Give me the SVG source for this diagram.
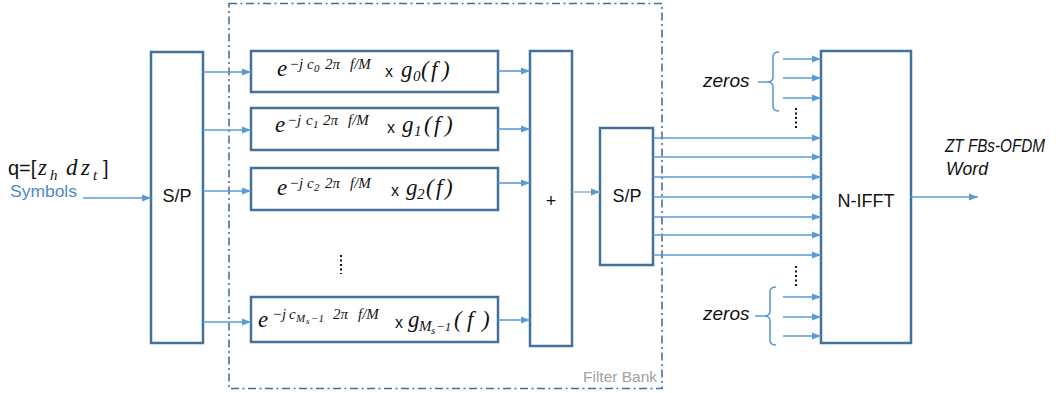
<svg xmlns="http://www.w3.org/2000/svg" width="1060" height="393" viewBox="0 0 1060 393">
<defs>
<marker id="ah" markerUnits="userSpaceOnUse" markerWidth="9" markerHeight="8" refX="9" refY="4" orient="auto">
<path d="M0,0.5 L9,4 L0,7.5 z" fill="#5B9BD5"/>
</marker>
<style>
.box{fill:#fff;stroke:#41719C;stroke-width:2.5}
.ar{stroke:#5B9BD5;stroke-width:1.6;fill:none;marker-end:url(#ah)}
.br{stroke:#5B9BD5;stroke-width:1.6;fill:none}
.m{font-family:"Liberation Serif",serif;font-style:italic;font-size:23px;fill:#111}
.sup{font-family:"Liberation Serif",serif;font-style:italic;font-size:15px;fill:#111}
.sb{font-size:11px}
.sb2{font-size:15px}
.s{font-family:"Liberation Sans",sans-serif;fill:#111}
.z{font-family:"Liberation Sans",sans-serif;font-style:italic;font-size:19px;fill:#111}
.dots{stroke:#111;stroke-width:2;stroke-dasharray:2 2.5}
</style>
</defs>
<rect x="0" y="0" width="1060" height="393" fill="#fff"/>
<g id="filterbank">
<rect x="229" y="3.5" width="433" height="385" fill="none" stroke="#41719C" stroke-width="1.6" stroke-dasharray="8 3.5 2 3.5"/>
<text x="583" y="382" font-family="Liberation Sans,sans-serif" font-size="15" fill="#A0A0A0" textLength="74" lengthAdjust="spacingAndGlyphs">Filter Bank</text>
</g>
<g id="input">
<text y="175" class="s" font-size="20"><tspan x="8">q=[</tspan><tspan x="38" class="m">z</tspan><tspan x="50" dy="5" class="sup">h</tspan><tspan x="66" dy="-5" class="m">d</tspan><tspan x="81" class="m">z</tspan><tspan x="93" dy="5" class="sup">t</tspan><tspan x="103" dy="-5">]</tspan></text>
<text x="10" y="197" font-family="Liberation Sans,sans-serif" font-size="16" fill="#4F8ACB" textLength="67" lengthAdjust="spacingAndGlyphs">Symbols</text>
</g>
<g id="sp1">
<rect class="box" x="151" y="52" width="52" height="291"/>
<text x="177" y="202" class="s" font-size="18" text-anchor="middle">S/P</text>
</g>
<g id="filter0">
<rect class="box" x="251" y="51" width="247" height="41"/>
<text x="277" y="76" class="m">e</text>
<text y="69" class="sup"><tspan x="289">−j</tspan><tspan x="307">c</tspan><tspan x="314" dy="3" class="sb">0</tspan><tspan x="325" dy="-3">2π</tspan><tspan x="350">f/M</tspan></text>
<text x="385" y="77" class="s" font-size="16">x</text>
<text y="77" class="m"><tspan x="401">g</tspan><tspan x="413" dy="4" class="sb2">0</tspan><tspan x="421" dy="-4">(</tspan><tspan x="431">f</tspan><tspan x="442">)</tspan></text>
</g>
<g id="filter1">
<rect class="box" x="251" y="108" width="247" height="42"/>
<text x="275" y="132" class="m">e</text>
<text y="125" class="sup"><tspan x="287">−j</tspan><tspan x="306">c</tspan><tspan x="313" dy="3" class="sb">1</tspan><tspan x="323" dy="-3">2π</tspan><tspan x="348">f/M</tspan></text>
<text x="387" y="133" class="s" font-size="16">x</text>
<text y="132" class="m"><tspan x="402">g</tspan><tspan x="414" dy="4" class="sb2">1</tspan><tspan x="424" dy="-4">(</tspan><tspan x="434">f</tspan><tspan x="445">)</tspan></text>
</g>
<g id="filter2">
<rect class="box" x="251" y="168" width="247" height="42"/>
<text x="277" y="195" class="m">e</text>
<text y="188" class="sup"><tspan x="289">−j</tspan><tspan x="307">c</tspan><tspan x="314" dy="3" class="sb">2</tspan><tspan x="325" dy="-3">2π</tspan><tspan x="350">f/M</tspan></text>
<text x="391" y="196" class="s" font-size="16">x</text>
<text y="195" class="m"><tspan x="406">g</tspan><tspan x="417" dy="4" class="sb2">2</tspan><tspan x="426" dy="-4">(</tspan><tspan x="436">f</tspan><tspan x="445">)</tspan></text>
</g>
<g id="filterM">
<rect class="box" x="251" y="297" width="247" height="45"/>
<text x="258" y="327" class="m">e</text>
<text y="319" class="sup"><tspan x="272">−j</tspan><tspan x="289">c</tspan><tspan x="296" dy="3" class="sb">M</tspan><tspan x="306" dy="2" font-size="9">s</tspan><tspan x="311" dy="-2" class="sb">−1</tspan><tspan x="333" dy="-3">2π</tspan><tspan x="358">f/M</tspan></text>
<text x="395" y="328" class="s" font-size="16">x</text>
<text y="327" class="m"><tspan x="408">g</tspan><tspan x="419" dy="4" class="sb2">M</tspan><tspan x="431" dy="3" font-size="11">s</tspan><tspan x="436" dy="-3" font-size="13">−1</tspan><tspan x="454" dy="-4">(</tspan><tspan x="467">f</tspan><tspan x="482">)</tspan></text>
</g>
<g id="sum">
<rect class="box" x="530" y="51" width="42" height="295"/>
<text x="551" y="207" class="s" font-size="18" text-anchor="middle">+</text>
</g>
<g id="sp2">
<rect class="box" x="600" y="128" width="53" height="137"/>
<text x="627" y="202" class="s" font-size="18" text-anchor="middle">S/P</text>
</g>
<g id="ifft">
<rect class="box" x="821" y="51" width="90" height="292"/>
<text x="866" y="207" class="s" font-size="18" text-anchor="middle">N-IFFT</text>
</g>
<g id="labels">
<text x="703" y="87" class="z">zeros</text>
<text x="703" y="320" class="z">zeros</text>
<text x="945" y="152" class="z" font-size="14" textLength="100" lengthAdjust="spacingAndGlyphs">ZT FBs-OFDM</text>
<text x="946" y="175" class="z" font-size="16" textLength="42" lengthAdjust="spacingAndGlyphs">Word</text>
<line class="dots" x1="341" y1="255" x2="341" y2="274"/>
<line class="dots" x1="796" y1="108" x2="796" y2="128"/>
<line class="dots" x1="796" y1="266" x2="796" y2="286"/>
</g>
<g id="connectors">
<line class="ar" x1="83" y1="198" x2="151" y2="198"/>
<line class="ar" x1="203" y1="72" x2="251" y2="72"/>
<line class="ar" x1="203" y1="130" x2="251" y2="130"/>
<line class="ar" x1="203" y1="191" x2="251" y2="191"/>
<line class="ar" x1="203" y1="322" x2="251" y2="322"/>
<line class="ar" x1="498" y1="71" x2="530" y2="71" stroke-width="1"/>
<line class="ar" x1="498" y1="129" x2="530" y2="129"/>
<line class="ar" x1="498" y1="183" x2="530" y2="183"/>
<line class="ar" x1="498" y1="320" x2="530" y2="320"/>
<line class="ar" x1="572" y1="192" x2="600" y2="192" style="stroke:#A6B4C4"/>
<line class="ar" x1="653" y1="138" x2="821" y2="138"/>
<line class="ar" x1="653" y1="157" x2="821" y2="157"/>
<line class="ar" x1="653" y1="177" x2="821" y2="177"/>
<line class="ar" x1="653" y1="197" x2="821" y2="197"/>
<line class="ar" x1="653" y1="217" x2="821" y2="217"/>
<line class="ar" x1="653" y1="235" x2="821" y2="235"/>
<line class="ar" x1="653" y1="255" x2="821" y2="255"/>
<line class="ar" x1="783" y1="59" x2="821" y2="59"/>
<line class="ar" x1="783" y1="78" x2="821" y2="78"/>
<line class="ar" x1="783" y1="98" x2="821" y2="98"/>
<line class="ar" x1="783" y1="297" x2="821" y2="297"/>
<line class="ar" x1="783" y1="317" x2="821" y2="317"/>
<line class="ar" x1="783" y1="336" x2="821" y2="336"/>
<line class="ar" x1="911" y1="197" x2="978" y2="197"/>
<path class="br" d="M779,52 Q773,52 773,57 L773,77 Q773,82 767,82 Q773,82 773,87 L773,106 Q773,111 779,111 M758,82 L767,82"/>
<path class="br" d="M776,287 Q770,287 770,292 L770,311 Q770,316 764,316 Q770,316 770,321 L770,340 Q770,345 776,345 M755,316 L764,316"/>
</g>
</svg>
